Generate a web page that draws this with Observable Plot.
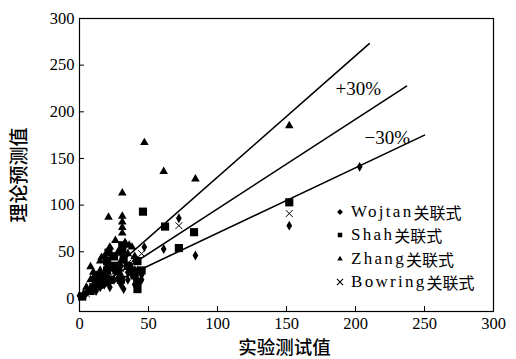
<!DOCTYPE html>
<html>
<head>
<meta charset="utf-8">
<script src="https://cdn.jsdelivr.net/npm/d3@7"></script>
<script src="https://cdn.jsdelivr.net/npm/@observablehq/plot@0.6"></script>
<style>
  html, body { margin: 0; padding: 0; background: #fff; }
  #wrap { position: relative; width: 516px; height: 359px; }
  #wrap svg text { font-family: "Liberation Serif", "Times New Roman", "DejaVu Serif", serif; }
  #wrap svg text.cjk, #wrap svg .cjk text { font-family: "Noto Sans CJK SC", sans-serif; }
  #legend { position: absolute; left: 332px; top: 200px; font-family: "Liberation Serif", "Times New Roman", "DejaVu Serif", serif; font-size: 17px; color: #000; }
  #legend .row { display: flex; align-items: center; height: 23.5px; }
  #legend svg { width: 16px; height: 16px; margin-right: 3px; }
  #legend .lat { letter-spacing: 2.3px; }
  #legend .cjk { font-family: "Noto Sans CJK SC", sans-serif; font-size: 16px; }
</style>
</head>
<body>
<div id="wrap"><div id="legend"></div></div>
<script>
// ---- data ----
const xTicks = [0, 50, 100, 150, 200, 250, 300];
const yTicks = [0, 50, 100, 150, 200, 250, 300];
const xTitle = "实验测试值";
const yTitle = "理论预测值";

const seriesNames = ["Wojtan", "Shah", "Zhang", "Bowring"];
const legendSuffix = "关联式";

const wojtan = [[0,3],[5,6],[8,10],[10,14],[12,8],[15,12],[15,20],[18,15],[20,18],[20,25],[22,12],[25,20],[25,30],[28,22],[30,15],[30,25],[30,35],[32,10],[35,20],[35,28],[38,25],[38,32],[40,15],[40,22],[40,40],[42,30],[45,20],[45,25],[47,55],[61,53],[72,86],[84,46],[152,78],[203,141]];
const shah = [[2,2],[8,8],[10,12],[12,18],[15,25],[15,15],[18,22],[20,30],[20,40],[21,49],[22,20],[25,35],[25,45],[28,30],[30,20],[31,57],[31,50],[32,42],[35,35],[38,30],[40,25],[42,40],[42,18],[42,10],[45,30],[46,93],[62,77],[72,54],[83,71],[152,103]];
const zhang = [[3,5],[5,12],[8,20],[8,34],[10,28],[10,22],[12,25],[15,40],[15,30],[16,44],[18,45],[20,35],[21,87],[22,55],[26,62],[25,45],[28,50],[30,40],[31,70],[31,76],[31,82],[31,88],[31,113],[33,60],[36,57],[35,48],[38,55],[40,45],[47,167],[61,136],[84,128],[152,185]];
const bowring = [[5,5],[10,10],[15,18],[20,22],[25,28],[30,32],[35,38],[40,42],[45,48],[72,78],[152,91]];

const lineRatios = [1.3, 0.96, 0.7];
const lineEnds = [210, 237, 250];
const bandLabels = ["+30%", "\u221230%"];
const bandLabelX = [202, 223];
const bandLabelY = [225, 172];

// ---- build ----
const W = 516, H = 359;
const mL = 79, mR = 23, mT = 18, mB = 48;
const frameW = W - mL - mR, frameH = H - mT - mB;
const toPts = arr => arr.map(([x, y]) => ({x, y}));
const segs = lineRatios.flatMap((k, i) => [{x: 0, y: 0, g: i}, {x: lineEnds[i], y: k * lineEnds[i], g: i}]);
const labels = bandLabels.map((t, i) => ({t, x: bandLabelX[i], y: bandLabelY[i]}));

const chart = Plot.plot({
  width: W, height: H,
  marginLeft: mL, marginRight: mR, marginTop: mT, marginBottom: mB,
  style: {fontSize: "16px", color: "#000", background: "#fff"},
  x: {domain: [0, 300]},
  y: {domain: [-14, 300]},
  marks: [
    Plot.frame({stroke: "#000", strokeWidth: 1.2}),
    Plot.ruleX(xTicks, {x: d => d, insetTop: frameH - 5, stroke: "#000"}),
    Plot.ruleY(yTicks, {y: d => d, insetRight: frameW - 5, stroke: "#000"}),
    Plot.axisX({ticks: xTicks, tickSize: 0, tickPadding: 6, label: null, fontSize: 16.5}),
    Plot.axisY({ticks: yTicks, tickSize: 0, tickPadding: 5, label: null, fontSize: 16.5}),
    Plot.line(segs, {x: "x", y: "y", z: "g", stroke: "#000", strokeWidth: 1.6}),
    Plot.text(labels, {x: "x", y: "y", text: "t", fontSize: 19, fill: "#000"}),
    Plot.dot(toPts(wojtan), {x: "x", y: "y", symbol: "diamond", r: 3, fill: "#000", stroke: "none"}),
    Plot.dot(toPts(shah), {x: "x", y: "y", symbol: "square", r: 4.6, fill: "#000", stroke: "none"}),
    Plot.dot(toPts(zhang), {x: "x", y: "y", symbol: "triangle", r: 3.2, fill: "#000", stroke: "none"}),
    Plot.dot(toPts(bowring), {x: "x", y: "y", symbol: "times", r: 3.2, stroke: "#000", strokeWidth: 1}),
    Plot.text([xTitle], {frameAnchor: "bottom", dy: 37, dx: -2, lineAnchor: "middle", textAnchor: "middle", fontSize: 18.5, fontWeight: 500, className: "cjk"}),
    Plot.text([yTitle], {frameAnchor: "left", dx: -60, dy: 10, rotate: -90, lineAnchor: "middle", textAnchor: "middle", fontSize: 19, fontWeight: 500, className: "cjk"})
  ]
});
document.getElementById("wrap").prepend(chart);

// legend
const legendSymbols = [d3.symbolDiamond2, d3.symbolSquare2, d3.symbolTriangle2, d3.symbolTimes];
const legendSizes = [22, 26, 22, 26];
const leg = d3.select("#legend");
seriesNames.forEach((name, i) => {
  const row = leg.append("div").attr("class", "row");
  const s = row.append("svg").attr("viewBox", "-8 -8 16 16");
  const p = s.append("path").attr("d", d3.symbol(legendSymbols[i], legendSizes[i])());
  if (i === 3) p.attr("fill", "none").attr("stroke", "#000").attr("stroke-width", 1.1);
  else p.attr("fill", "#000");
  row.append("span").attr("class", "lat").text(name);
  row.append("span").attr("class", "cjk").text(legendSuffix);
});
</script>
</body>
</html>
